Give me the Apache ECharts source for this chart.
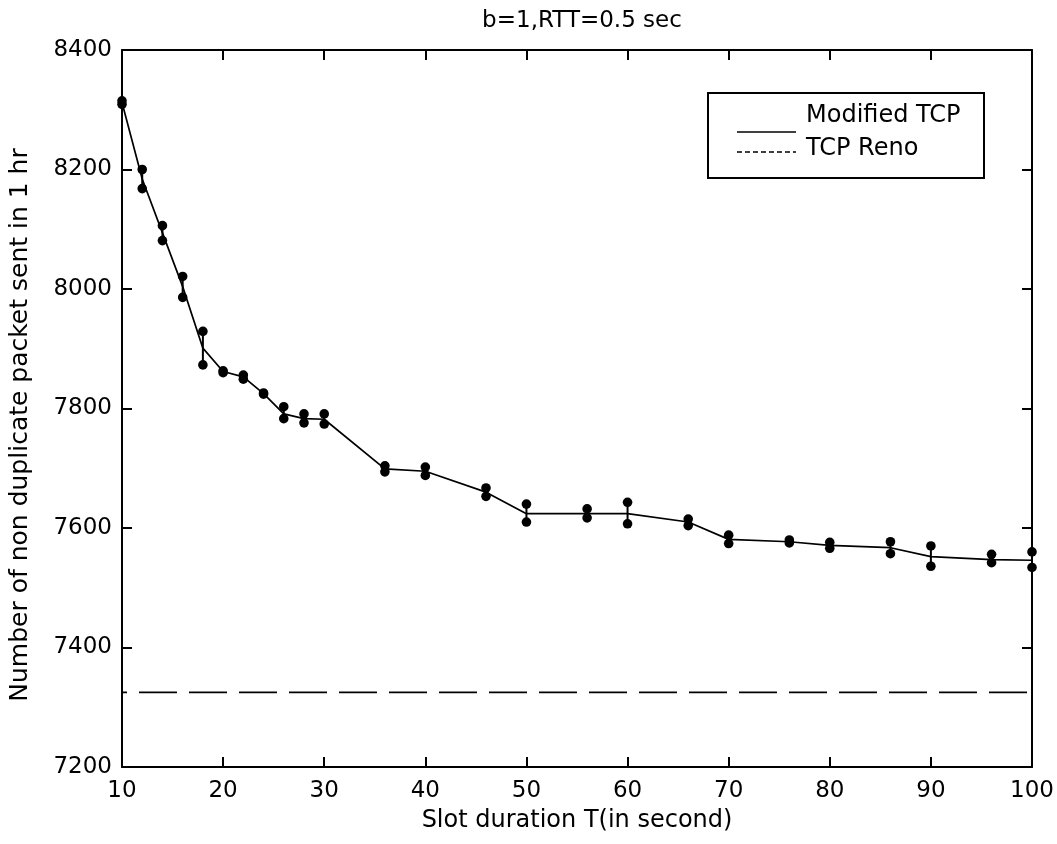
<!DOCTYPE html>
<html>
<head>
<meta charset="utf-8">
<script src="https://cdn.jsdelivr.net/npm/echarts@6/dist/echarts.min.js"></script>
<style>
html,body{margin:0;padding:0;background:#fff;}
#chart{width:1057px;height:844px;}
</style>
</head>
<body>
<div id="chart"></div>
<script>
// ---- data ----
const slotT   = [10, 12, 14, 16, 18, 20, 22, 24, 26, 28, 30, 36, 40, 46, 50, 56, 60, 66, 70, 76, 80, 86, 90, 96, 100];
const modMean = [8312, 8184, 8094, 8004, 7901, 7862, 7853, 7825, 7791, 7783, 7782, 7699, 7695, 7660, 7624, 7624, 7624, 7610, 7581, 7577, 7571, 7567, 7552, 7547, 7546];
const modUpper= [8315, 8200, 8106, 8021, 7929, 7863, 7856, 7826, 7803, 7791, 7791, 7704, 7702, 7667, 7640, 7632, 7643, 7615, 7588, 7580, 7576, 7577, 7570, 7556, 7560];
const modLower= [8309, 8168, 8081, 7986, 7873, 7860, 7849, 7824, 7783, 7776, 7774, 7694, 7688, 7653, 7610, 7617, 7607, 7604, 7574, 7575, 7566, 7557, 7536, 7542, 7534];
const renoX   = [10, 100];
const renoVal = [7325, 7325];
const xTicks  = [10, 20, 30, 40, 50, 60, 70, 80, 90, 100];
const yTicks  = [7200, 7400, 7600, 7800, 8000, 8200, 8400];
const titleText = 'b=1,RTT=0.5 sec';
const xName = 'Slot duration T(in second)';
const yName = 'Number of non duplicate packet sent in 1 hr';
const legendNames = ['Modified TCP', 'TCP Reno'];

const FONT = 'DejaVu Sans';
const chart = echarts.init(document.getElementById('chart'), null, {renderer: 'canvas'});

const meanData = slotT.map((x, i) => [x, modMean[i]]);
const barData  = slotT.map((x, i) => [x, modLower[i], modUpper[i]]);
const renoData = renoX.map((x, i) => [x, renoVal[i]]);

const axisCommon = {
  type: 'value',
  axisLine: {show: true, onZero: false, lineStyle: {color: '#000', width: 2}},
  axisTick: {show: true, inside: true, length: 10, lineStyle: {color: '#000', width: 2}},
  splitLine: {show: false}
};

chart.setOption({
  animation: false,
  backgroundColor: '#fff',
  title: {
    text: titleText,
    left: 577, top: 5, textAlign: 'center',
    textStyle: {fontFamily: FONT, fontSize: 23, fontWeight: 'normal', color: '#000'}
  },
  grid: {left: 122, right: 25, top: 50, bottom: 77, containLabel: false, outerBoundsMode: 'none'},
  xAxis: [
    Object.assign({}, axisCommon, {
      position: 'bottom', min: 10, max: 100, interval: 10,
      name: xName, nameLocation: 'middle', nameGap: 42,
      nameTextStyle: {fontFamily: FONT, fontSize: 24, color: '#000'},
      axisLabel: {margin: 13, fontFamily: FONT, fontSize: 23, color: '#000',
        formatter: v => (xTicks.indexOf(v) >= 0 ? String(v) : '')}
    }),
    Object.assign({}, axisCommon, {
      position: 'top', min: 10, max: 100, interval: 10, axisLabel: {show: false}
    })
  ],
  yAxis: [
    Object.assign({}, axisCommon, {
      position: 'left', min: 7200, max: 8400, interval: 200,
      axisLabel: {margin: 10, fontFamily: FONT, fontSize: 23, color: '#000',
        formatter: v => (yTicks.indexOf(v) >= 0 ? String(v) : '')}
    }),
    Object.assign({}, axisCommon, {
      position: 'right', min: 7200, max: 8400, interval: 200, axisLabel: {show: false}
    })
  ],
  series: [
    {
      name: legendNames[0], type: 'line', data: meanData,
      xAxisIndex: 0, yAxisIndex: 0,
      showSymbol: false, symbol: 'none',
      lineStyle: {color: '#000', width: 1.7}, z: 3
    },
    {
      name: 'errbars', type: 'custom', data: barData,
      xAxisIndex: 0, yAxisIndex: 0,
      encode: {x: 0, y: [1, 2]},
      renderItem: function (params, api) {
        const x = api.value(0);
        const lo = api.coord([x, api.value(1)]);
        const hi = api.coord([x, api.value(2)]);
        const r = 4.8;
        return {
          type: 'group',
          children: [
            {type: 'line', shape: {x1: lo[0], y1: lo[1], x2: hi[0], y2: hi[1]},
             style: {stroke: '#000', lineWidth: 2}},
            {type: 'circle', shape: {cx: lo[0], cy: lo[1], r: r}, style: {fill: '#000'}},
            {type: 'circle', shape: {cx: hi[0], cy: hi[1], r: r}, style: {fill: '#000'}}
          ]
        };
      },
      z: 4
    },
    {
      name: legendNames[1], type: 'line', data: renoData,
      xAxisIndex: 0, yAxisIndex: 0,
      showSymbol: false, symbol: 'none',
      lineStyle: {color: '#000', width: 1.8, type: [38, 12], dashOffset: 33}, z: 3
    }
  ],
  graphic: [
    {type: 'text', z: 11, x: 20, y: 425, rotation: Math.PI / 2,
     style: {text: yName, fontFamily: FONT, fontSize: 25, fill: '#000',
             align: 'center', verticalAlign: 'middle'}},
    {type: 'rect', left: 707, top: 92, z: 10,
     shape: {width: 276, height: 85}, style: {fill: '#fff', stroke: '#000', lineWidth: 2}},
    {type: 'line', z: 11, shape: {x1: 737, y1: 132, x2: 796, y2: 132},
     style: {stroke: '#000', lineWidth: 1.7}},
    {type: 'text', z: 11, left: 806, top: 104,
     style: {text: legendNames[0], fontFamily: FONT, fontSize: 24, fill: '#000'}},
    {type: 'line', z: 11, shape: {x1: 737, y1: 152, x2: 796, y2: 152},
     style: {stroke: '#000', lineWidth: 1.7, lineDash: [5, 3]}},
    {type: 'text', z: 11, left: 806, top: 137,
     style: {text: legendNames[1], fontFamily: FONT, fontSize: 24, fill: '#000'}}
  ]
});
</script>
</body>
</html>
